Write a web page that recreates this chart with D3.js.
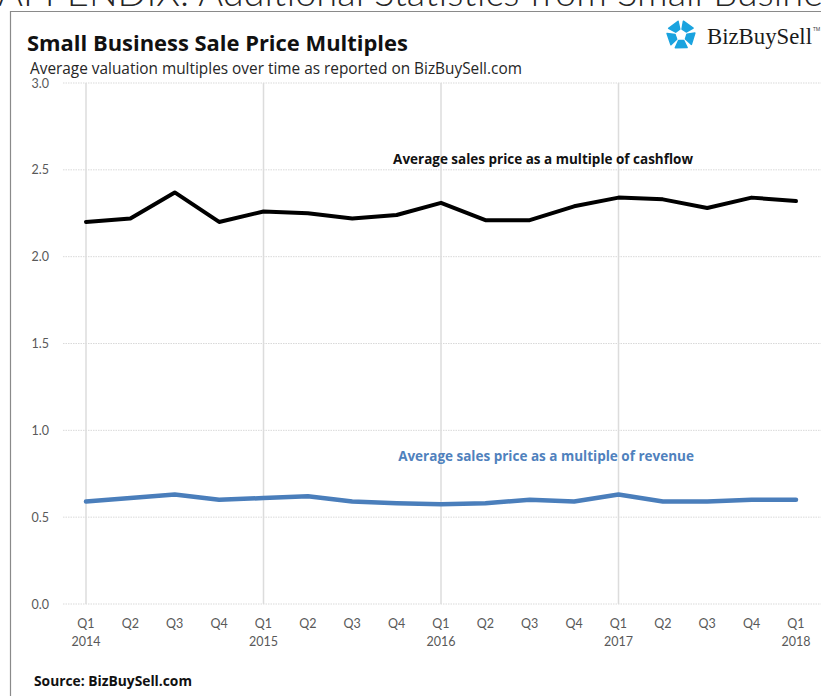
<!DOCTYPE html>
<html>
<head>
<meta charset="utf-8">
<script src="https://cdn.jsdelivr.net/npm/d3@7"></script>
<style>
  html, body { margin: 0; padding: 0; background: #fff; }
  svg { display: block; }
  text { font-family: "Open Sans", Lato, sans-serif; }
</style>
</head>
<body>
<svg id="chart" width="821" height="696"></svg>
<script>
// ---- Data ----
const quarters = ["Q1","Q2","Q3","Q4","Q1","Q2","Q3","Q4","Q1","Q2","Q3","Q4","Q1","Q2","Q3","Q4","Q1"];
const years = ["2014","","","","2015","","","","2016","","","","2017","","","","2018"];
const cashflow = [2.20,2.22,2.37,2.20,2.26,2.25,2.22,2.24,2.31,2.21,2.21,2.29,2.34,2.33,2.28,2.34,2.32];
const revenue  = [0.59,0.61,0.63,0.60,0.61,0.62,0.59,0.58,0.575,0.58,0.60,0.59,0.63,0.59,0.59,0.60,0.60];
const yTicks = [0,0.5,1.0,1.5,2.0,2.5,3.0];
const yearGridIdx = [0,4,8,12];

const svg = d3.select("#chart");

// fit a text's font size so its width matches a target width
function fit(sel, target) {
  const fs = +sel.attr("font-size");
  const w = sel.node().getComputedTextLength();
  sel.attr("font-size", (fs * target / w).toFixed(2));
  return sel;
}

// page heading (cut off at top)
svg.append("text").attr("x", -2).attr("y", 6)
  .attr("font-size", 38).attr("font-weight", 300).attr("fill", "#262626")
  .style("font-family", "Lato, sans-serif")
  .text("APPENDIX: Additional Statistics from Small Business Sales");

// frame
svg.append("path").attr("d", "M10.5,696 V11.5 H821")
  .attr("fill", "none").attr("stroke", "#8a8a8a").attr("stroke-width", 1.2);

// scales
const idx = d3.range(quarters.length);
const x = d3.scalePoint().domain(idx).range([86, 796]);
const y = d3.scaleLinear().domain([0, 3]).range([604, 83]);

// horizontal grid
svg.append("g").selectAll("line").data(yTicks).join("line")
  .attr("x1", 63).attr("x2", 821)
  .attr("y1", d => y(d)).attr("y2", d => y(d))
  .attr("stroke", "#d9d9d9").attr("stroke-width", 1)
  .attr("stroke-dasharray", "1.5,1");

// vertical year grid
svg.append("g").selectAll("line").data(yearGridIdx).join("line")
  .attr("x1", d => x(d)).attr("x2", d => x(d))
  .attr("y1", y(3)).attr("y2", y(0))
  .attr("stroke", "#dcdcdc").attr("stroke-width", 1.5);

// y axis labels
const yAxis = d3.axisLeft(y).tickValues(yTicks).tickFormat(d3.format(".1f")).tickSize(0).tickPadding(0);
const gy = svg.append("g").attr("transform", "translate(49,0)").call(yAxis);
gy.select(".domain").remove();
gy.selectAll("text").attr("font-size", 12.5).attr("fill", "#595959")
  .style("font-family", "Lato, sans-serif");

// x axis labels
const gx = svg.append("g");
gx.selectAll("text.q").data(idx).join("text").attr("class", "q")
  .attr("x", d => x(d)).attr("y", 628).attr("text-anchor", "middle")
  .style("font-family", "Lato, sans-serif")
  .attr("font-size", 12.5).attr("fill", "#595959").text(d => quarters[d]);
gx.selectAll("text.yr").data(idx.filter(i => years[i])).join("text").attr("class", "yr")
  .attr("x", d => x(d)).attr("y", 646).attr("text-anchor", "middle")
  .style("font-family", "Lato, sans-serif")
  .attr("font-size", 12.5).attr("fill", "#595959").text(d => years[d]);

// lines
const line = d3.line().x((d, i) => x(i)).y(d => y(d));
svg.append("path").datum(cashflow).attr("d", line)
  .attr("fill", "none").attr("stroke", "#000").attr("stroke-width", 4)
  .attr("stroke-linejoin", "round").attr("stroke-linecap", "round");
svg.append("path").datum(revenue).attr("d", line)
  .attr("fill", "none").attr("stroke", "#4a7ebb").attr("stroke-width", 4.5)
  .attr("stroke-linejoin", "round").attr("stroke-linecap", "round");

// series labels
fit(svg.append("text").attr("x", 543).attr("y", 164).attr("text-anchor", "middle")
  .attr("font-size", 13).attr("font-weight", 700).attr("fill", "#111")
  .text("Average sales price as a multiple of cashflow"), 300);
fit(svg.append("text").attr("x", 546).attr("y", 461).attr("text-anchor", "middle")
  .attr("font-size", 13).attr("font-weight", 700).attr("fill", "#4f81bd")
  .text("Average sales price as a multiple of revenue"), 296);

// title & subtitle
fit(svg.append("text").attr("x", 27).attr("y", 51)
  .attr("font-size", 20).attr("font-weight", 700).attr("fill", "#111")
  .text("Small Business Sale Price Multiples"), 381);
fit(svg.append("text").attr("x", 30).attr("y", 74)
  .attr("font-size", 13).attr("fill", "#262626")
  .text("Average valuation multiples over time as reported on BizBuySell.com"), 492);

// source
fit(svg.append("text").attr("x", 34).attr("y", 686)
  .attr("font-size", 13).attr("font-weight", 700).attr("fill", "#111")
  .text("Source: BizBuySell.com"), 158);

// logo
const logo = svg.append("g").attr("transform", "translate(681,35)");
const R = 14, r = 6;
d3.range(5).forEach(k => {
  const a0 = (-90 + k * 72 + 10) * Math.PI / 180;
  const a1 = (-90 + k * 72 + 60) * Math.PI / 180;
  const pts = [
    [R * Math.cos(a0), R * Math.sin(a0)],
    [R * Math.cos(a1), R * Math.sin(a1)],
    [r * Math.cos(a1), r * Math.sin(a1)],
    [r * Math.cos(a0), r * Math.sin(a0)]
  ];
  logo.append("polygon").attr("points", pts.map(p => p.join(",")).join(" "))
    .attr("fill", "#1aa3df").attr("stroke", "#1aa3df")
    .attr("stroke-width", 1.5).attr("stroke-linejoin", "round");
});
fit(svg.append("text").attr("x", 707).attr("y", 44)
  .attr("font-size", 20).attr("fill", "#1a1a1a")
  .style("font-family", "'Liberation Serif', 'DejaVu Serif', serif")
  .text("BizBuySell"), 105);
svg.append("text").attr("x", 813).attr("y", 31)
  .attr("font-size", 5).attr("fill", "#333")
  .text("TM");
</script>
</body>
</html>
